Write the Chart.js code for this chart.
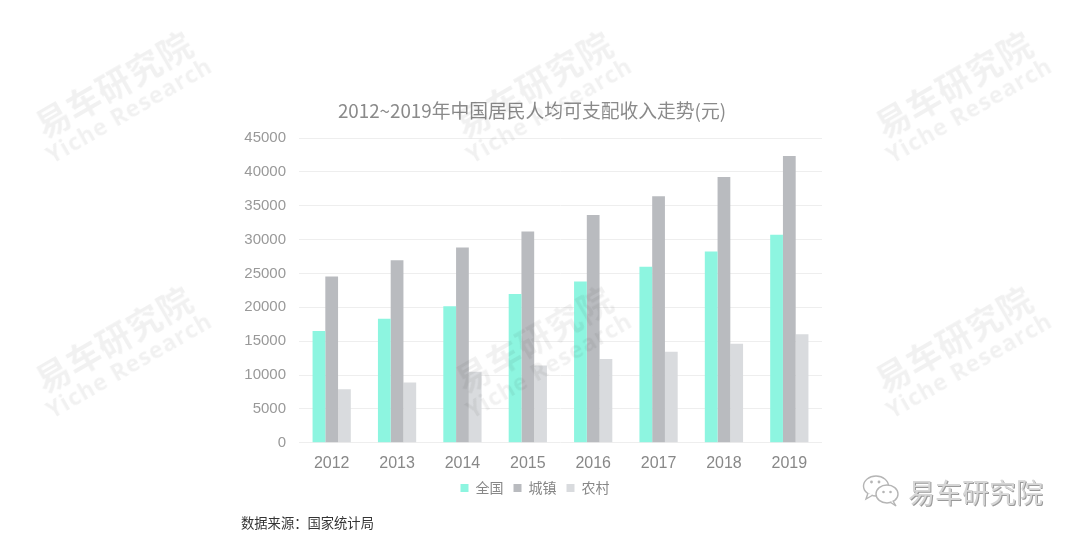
<!DOCTYPE html>
<html><head><meta charset="utf-8">
<script src="https://cdn.jsdelivr.net/npm/chart.js@4.4.1/dist/chart.umd.min.js"></script>
<style>
html,body{margin:0;padding:0;background:#fff;width:1080px;height:539px;overflow:hidden;font-family:"Noto Sans CJK SC","Noto Sans",sans-serif;}
#wrap{position:relative;width:1080px;height:539px;}
#c{position:absolute;left:0;top:0;}
.title{position:absolute;left:0;width:1064px;top:98px;text-align:center;font-size:18.8px;color:#8a8a8a;line-height:24px;}
.src{position:absolute;left:241px;top:514px;font-size:13.3px;color:#333;line-height:18px;}
.wm{position:absolute;width:240px;text-align:center;transform:rotate(-30deg);color:rgba(0,0,0,0.055);font-weight:bold;pointer-events:none;line-height:1;}
.wm .cn{font-size:34px;letter-spacing:1px;}
.wm .en{font-size:23px;margin-top:2px;font-family:"Open Sans","DejaVu Sans",sans-serif;letter-spacing:1px;}
.logo{position:absolute;left:862px;top:472px;height:38px;display:flex;align-items:center;}
.logo span{font-size:27px;color:#d6d6d6;margin-left:6px;text-shadow:1px 1px 0 #9a9a9a,-1px -1px 0 #fff;}
</style></head>
<body><div id="wrap">
<canvas id="c" width="1080" height="539"></canvas>
<div class="title">2012~2019年中国居民人均可支配收入走势(元)</div>
<div class="src">数据来源：国家统计局</div>
<div class="logo"><svg width="40" height="34" viewBox="0 0 40 34"><g fill="#fff" stroke="#b5b5b5" stroke-width="1.4"><ellipse cx="14" cy="12" rx="12.5" ry="10"/><path d="M6 19 L4 25 L11 21"/><ellipse cx="25" cy="20" rx="11" ry="9"/><path d="M31 27 L34 32 L28 28"/></g><g fill="#b5b5b5"><circle cx="9.5" cy="8" r="1.4"/><circle cx="17" cy="8" r="1.4"/><circle cx="21.5" cy="18" r="1.3"/><circle cx="28.5" cy="18" r="1.3"/></g></svg><span>易车研究院</span></div>
</div>
<script>
const categories = ['2012','2013','2014','2015','2016','2017','2018','2019'];
const seriesNames = ['全国','城镇','农村'];
const nationalIncome = [16510, 18311, 20167, 21966, 23821, 25974, 28228, 30733];
const urbanIncome = [24565, 26955, 28844, 31195, 33616, 36396, 39251, 42359];
const ruralIncome = [7917, 8896, 10489, 11422, 12363, 13432, 14617, 16021];
const yMin = 0, yMax = 45000, yStep = 5000;
const seriesColors = ['#8df5e0','#b9bbbf','#d9dbde'];

// watermarks
const wmPos = [[120,100],[540,100],[960,100],[120,355],[540,355],[960,355]];
const wrap = document.getElementById('wrap');
wmPos.forEach(([x,y])=>{
  const d=document.createElement('div');d.className='wm';
  d.style.left=(x-120)+'px';d.style.top=(y-35)+'px';
  d.innerHTML='<div class="cn">易车研究院</div><div class="en">Yiche Research</div>';
  wrap.appendChild(d);
});

const legendShift = {
  id:'legendShift',
  afterLayout(chart){ const l=chart.legend; if(l){ l.left += 9; l.right += 9; l.top -= 13; l.bottom -= 13; } }
};

new Chart(document.getElementById('c'), {
  type:'bar',
  data:{
    labels:categories,
    datasets:[
      {label:seriesNames[0],data:nationalIncome,backgroundColor:seriesColors[0]},
      {label:seriesNames[1],data:urbanIncome,backgroundColor:seriesColors[1]},
      {label:seriesNames[2],data:ruralIncome,backgroundColor:seriesColors[2]}
    ]
  },
  plugins:[legendShift],
  options:{
    responsive:false,animation:false,
    datasets:{bar:{barPercentage:1,categoryPercentage:0.585}},
    layout:{padding:{left:230,right:258,top:138,bottom:21}},
    plugins:{
      title:{display:false},tooltip:{enabled:false},
      legend:{position:'bottom',labels:{boxWidth:8,boxHeight:8,color:'#888',padding:10,font:{size:14,family:'"Noto Sans CJK SC",sans-serif'}}}
    },
    scales:{
      x:{grid:{display:false,drawTicks:false},border:{display:false},
         ticks:{color:'#888',padding:11,font:{size:16,family:'"Liberation Sans",Arial,sans-serif'}}},
      y:{min:yMin,max:yMax,border:{display:false},
         grid:{color:'#eeeeee',drawTicks:false},
         ticks:{stepSize:yStep,color:'#999',padding:13,callback:v=>String(v),font:{size:15,family:'"Liberation Sans",Arial,sans-serif'}},
         afterFit:s=>{s.width=69;}}
    }
  }
});
</script>
</body></html>
